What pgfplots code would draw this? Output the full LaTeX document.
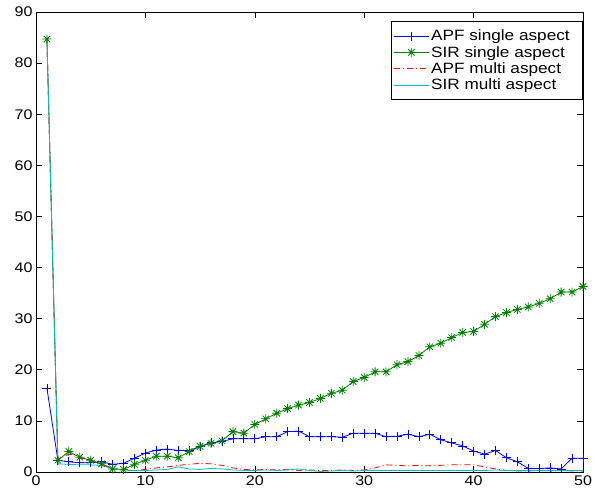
\documentclass[border=0pt]{standalone}
\usepackage{fontspec}
\setmainfont{Liberation Sans}[FakeStretch=1.15]
\usepackage{pgfplots}
\pgfplotsset{compat=1.18}
\definecolor{mblue}{rgb}{0,0,1}
\definecolor{mgreen}{rgb}{0,0.5,0}
\definecolor{mred}{rgb}{1,0,0}
\definecolor{mcyan}{rgb}{0,0.75,0.75}

% MATLAB-like '*' marker (plus and cross together)
\pgfdeclareplotmark{mstar}{%
  \pgfpathmoveto{\pgfqpoint{-\pgfplotmarksize}{0pt}}\pgfpathlineto{\pgfqpoint{\pgfplotmarksize}{0pt}}%
  \pgfpathmoveto{\pgfqpoint{0pt}{-\pgfplotmarksize}}\pgfpathlineto{\pgfqpoint{0pt}{\pgfplotmarksize}}%
  \pgfpathmoveto{\pgfqpoint{-.707\pgfplotmarksize}{-.707\pgfplotmarksize}}\pgfpathlineto{\pgfqpoint{.707\pgfplotmarksize}{.707\pgfplotmarksize}}%
  \pgfpathmoveto{\pgfqpoint{-.707\pgfplotmarksize}{.707\pgfplotmarksize}}\pgfpathlineto{\pgfqpoint{.707\pgfplotmarksize}{-.707\pgfplotmarksize}}%
  \pgfusepathqstroke}

\pgfplotstableread{
x  apfs  sirs  apfm  sirm
1  16.4  84.7  84.7  84.7
2  2.3   2.3   2.5   1.6
3  2.0   4.0   3.5   1.5
4  1.8   2.9   2.8   1.4
5  1.8   2.3   2.2   1.4
6  2.0   1.6   1.5   1.3
7  1.5   0.6   0.8   0.6
8  1.7   0.5   0.3   0.4
9  2.7   1.5   0.3   0.3
10 3.7   2.3   0.5   0.3
11 4.3   3.1   0.8   0.4
12 4.5   3.1   1.0   0.5
13 4.2   2.8   1.3   1.0
14 4.2   4.0   1.5   0.6
15 5.0   5.0   1.7   0.5
16 5.7   5.6   1.6   0.7
17 6.0   6.1   1.3   0.6
18 6.5   7.9   0.8   0.4
19 6.5   7.6   0.5   0.3
20 6.5   9.3   0.4   0.3
21 6.9   10.4  0.5   0.4
22 6.9   11.5  0.4   0.3
23 7.9   12.4  0.5   0.4
24 8.0   13.1  0.3   0.6
25 6.9   13.6  0.4   0.3
26 6.9   14.4  0.3   0.1
27 6.9   15.4  0.3   0.2
28 6.8   16.0  0.4   0.3
29 7.6   17.7  0.3   0.2
30 7.6   18.5  0.4   0.3
31 7.6   19.6  0.8   0.3
32 6.9   19.6  1.4   0.3
33 7.0   21.0  1.3   0.3
34 7.4   21.6  1.2   0.3
35 6.9   22.8  1.3   0.3
36 7.4   24.5  1.2   0.3
37 6.3   25.2  1.3   0.3
38 5.7   26.3  1.4   0.3
39 5.1   27.3  1.4   0.3
40 4.1   27.5  1.4   0.3
41 3.5   28.9  1.0   0.3
42 4.2   30.4  0.6   0.4
43 2.8   31.2  0.3   0.3
44 2.0   31.8  0.2   0.3
45 0.7   32.3  0.2   0.3
46 0.7   33.0  0.3   0.3
47 0.8   33.9  0.2   0.3
48 0.6   35.2  0.3   0.3
49 2.7   35.2  0.2   0.3
50 2.7   36.3  0.2   0.3
}\datatable

\begin{document}
\begin{tikzpicture}
\useasboundingbox (-36bp,-27bp) rectangle (559bp,472bp);
\begin{axis}[
    at={(0,0)}, anchor=south west,
    scale only axis,
    width=547bp, height=460bp,
    xmin=0, xmax=50, ymin=0, ymax=90,
    xtick={0,10,...,50},
    ytick={0,10,...,90},
    tick align=inside,
    major tick length=6bp,
    axis line style={black, line width=0.6bp},
    tick style={black, line width=0.6bp},
    tick label style={font=\fontsize{14}{16}\selectfont},
    /pgf/number format/assume math mode=true,
    legend cell align=left,
    legend style={
        at={(0.998,0.980)}, anchor=north east,
        font=\fontsize{15}{17}\selectfont,
        inner xsep=2bp, inner ysep=6.5bp,
        row sep=0bp,
    },
]
\addplot[color=mblue, line width=0.8bp, mark=+, mark size=4.5bp,
    legend image code/.code={%
      \color{mblue}%
      \draw[mblue, line width=0.8bp] (0bp,0bp) -- (35bp,0bp);
      \draw[mblue, line width=0.8bp] plot[mark=+, mark size=4.5bp] coordinates {(17.5bp,0bp)};}]
    table[x=x, y=apfs] {\datatable};
\addlegendentry{APF single aspect\hspace*{8bp}}
\addplot[color=mgreen, line width=0.8bp, mark=mstar, mark size=4.5bp,
    legend image code/.code={%
      \color{mgreen}%
      \draw[mgreen, line width=0.8bp] (0bp,0bp) -- (35bp,0bp);
      \draw[mgreen, line width=0.8bp] plot[mark=mstar, mark size=4.5bp] coordinates {(17.5bp,0bp)};}]
    table[x=x, y=sirs] {\datatable};
\addlegendentry{SIR single aspect\hspace*{8bp}}
\addplot[color=mred, line width=0.8bp, dash pattern=on 6bp off 3bp on 1bp off 3bp,
    legend image code/.code={%
      \color{mred}%
      \draw[mred, line width=0.8bp, dash pattern=on 6bp off 3bp on 1bp off 3bp] (0bp,0bp) -- (35bp,0bp);}]
    table[x=x, y=apfm] {\datatable};
\addlegendentry{APF multi aspect\hspace*{8bp}}
\addplot[color=mcyan, line width=0.8bp,
    legend image code/.code={%
      \color{mcyan}%
      \draw[mcyan, line width=0.8bp] (0bp,0bp) -- (35bp,0bp);}]
    table[x=x, y=sirm] {\datatable};
\addlegendentry{SIR multi aspect\hspace*{8bp}}
\end{axis}
\end{tikzpicture}
\end{document}
